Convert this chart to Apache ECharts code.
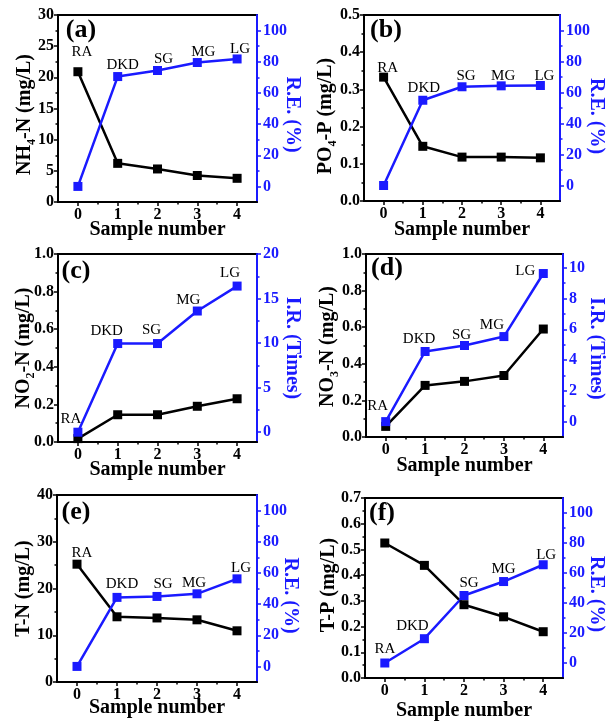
<!DOCTYPE html>
<html>
<head>
<meta charset="utf-8">
<script src="https://cdn.jsdelivr.net/npm/echarts@6.0.0/dist/echarts.min.js"></script>
<style>
html, body { margin: 0; padding: 0; background: #fff; }
#chart { width: 608px; height: 723px; }
</style>
</head>
<body>
<div id="chart"></div>
<script>
// sample positions and names
const samples = [0, 1, 2, 3, 4]
const sampleNames = ['RA', 'DKD', 'SG', 'MG', 'LG']
const halfTicks = [0.5, 1.5, 2.5, 3.5]

// (a) NH4-N and removal efficiency
const nh4N = [20.9, 6.2, 5.3, 4.25, 3.8]
const nh4RE = [0, 70.5, 74.4, 79.5, 81.8]
// (b) PO4-P
const po4P = [0.333, 0.147, 0.118, 0.118, 0.116]
const po4RE = [0, 55, 63.7, 64.3, 64.5]
// (c) NO2-N and increase rate
const no2N = [0.018, 0.145, 0.145, 0.19, 0.23]
const no2IR = [0, 9.95, 9.95, 13.6, 16.4]
// (d) NO3-N
const no3N = [0.058, 0.282, 0.304, 0.336, 0.59]
const no3IR = [0, 4.56, 4.95, 5.53, 9.63]
// (e) T-N
const tN = [25.2, 13.95, 13.7, 13.3, 10.95]
const tNRE = [0, 44.3, 44.9, 46.6, 56.2]
// (f) T-P
const tP = [0.525, 0.438, 0.285, 0.238, 0.18]
const tPRE = [0, 16.2, 45, 54.3, 65.5]

// right axis tick labels
const reTicks = [0, 20, 40, 60, 80, 100]
const reMinor = [10, 30, 50, 70, 90]
const irTicksC = [0, 5, 10, 15, 20]
const irMinorC = [2.5, 7.5, 12.5, 17.5]
const irTicksD = [0, 2, 4, 6, 8, 10]
const irMinorD = [1, 3, 5, 7, 9]

const font = '"Liberation Serif", "Times New Roman", serif'
const blue = '#1a1aff'

// layout of each panel
const panels = [
  { tag: '(a)', tagPos: [81, 30], box: [58, 15, 199, 187],
    leftName: 'NH{s|4}-N (mg/L)', left: [0, 30, 5], digits: 0, leftGap: 20, leftShift: 6,
    rightName: 'R.E. (%)', right: [-10, 110], rTicks: reTicks, rMinor: reMinor, rightGap: 24, rightShift: 6,
    xGap: 17, black: nh4N, blue: nh4RE, host: 'kbbbb',
    offs: [[4, -20], [5, -11], [6, -11], [6, -10], [3, -10]] },
  { tag: '(b)', tagPos: [386, 30], box: [364, 15, 201, 186],
    leftName: 'PO{s|4}-P (mg/L)', left: [0, 0.5, 0.1], digits: 1, leftGap: 25, leftShift: 8,
    rightName: 'R.E. (%)', right: [-10, 110], rTicks: reTicks, rMinor: reMinor, rightGap: 25, rightShift: 8,
    xGap: 18, black: po4P, blue: po4RE, host: 'kbbbb',
    offs: [[4, -9], [1, -12], [4, -11], [2, -10], [4, -9]] },
  { tag: '(c)', tagPos: [76, 271], box: [58, 254, 199, 188],
    leftName: 'NO{s|2}-N (mg/L)', left: [0, 1, 0.2], digits: 1, leftGap: 21, leftShift: 0,
    rightName: 'I.R. (Times)', right: [-1.1, 20], rTicks: irTicksC, rMinor: irMinorC, rightGap: 24, rightShift: 0,
    xGap: 17, black: no2N, blue: no2IR, host: 'bbbbb',
    offs: [[-7, -13], [-11, -12], [-6, -13], [-9, -11], [-7, -13]] },
  { tag: '(d)', tagPos: [387, 268], box: [366, 254, 198, 183],
    leftName: 'NO{s|3}-N (mg/L)', left: [0, 1, 0.2], digits: 1, leftGap: 25, leftShift: 1,
    rightName: 'I.R. (Times)', right: [-1, 10.9], rTicks: irTicksD, rMinor: irMinorD, rightGap: 22, rightShift: 3,
    xGap: 18, black: no3N, blue: no3IR, host: 'bbbbb',
    offs: [[-8, -16], [-6, -12], [-3, -10], [-12, -12], [-18, -2]] },
  { tag: '(e)', tagPos: [76, 512], box: [57, 495, 200, 187],
    leftName: 'T-N (mg/L)', left: [0, 40, 10], digits: 0, leftGap: 20, leftShift: 0,
    rightName: 'R.E. (%)', right: [-10, 110], rTicks: reTicks, rMinor: reMinor, rightGap: 22, rightShift: 7,
    xGap: 15, black: tN, blue: tNRE, host: 'kbbbb',
    offs: [[5, -11], [5, -13], [6, -12], [-3, -11], [4, -11]] },
  { tag: '(f)', tagPos: [382, 513], box: [365, 498, 199, 185],
    leftName: 'T-P (mg/L)', left: [0, 0.7, 0.1], digits: 1, leftGap: 23, leftShift: -3,
    rightName: 'R.E. (%)', right: [-10, 110], rTicks: reTicks, rMinor: reMinor, rightGap: 22, rightShift: 6,
    xGap: 22, black: tP, blue: tPRE, host: 'bbbbb',
    offs: [[0, -14], [-12, -13], [5, -12], [0, -12], [3, -10]] }
]

function tickLabel(color) {
  return { color: color, fontFamily: font, fontWeight: 'bold', fontSize: 16 }
}

function nameStyle(color, lineHeight, padding) {
  return {
    color: color, fontFamily: font, fontWeight: 'bold', fontSize: 20,
    lineHeight: lineHeight, padding: padding,
    rich: { s: { color: color, fontFamily: font, fontWeight: 'bold', fontSize: 12, lineHeight: 12, verticalAlign: 'bottom' } }
  }
}

function pointData(p, values, who) {
  return samples.map((x, j) => {
    const item = { value: [x, values[j]] }
    if (p.host[j] === who) {
      item.label = {
        show: true, position: 'inside', formatter: sampleNames[j], offset: p.offs[j],
        color: '#000', fontFamily: font, fontSize: 15
      }
    }
    return item
  })
}

const option = { animation: false, grid: [], xAxis: [], yAxis: [], series: [], graphic: [] }

panels.forEach((p, i) => {
  option.grid.push({
    left: p.box[0], top: p.box[1], width: p.box[2], height: p.box[3],
    show: true, borderColor: '#000', borderWidth: 2
  })
  // bottom axis
  option.xAxis.push({
    gridIndex: i, type: 'value', min: -0.5, max: 4.5, position: 'bottom',
    name: 'Sample number', nameLocation: 'middle', nameGap: p.xGap, nameMoveOverlap: false,
    nameTextStyle: nameStyle('#000', 22, 0),
    axisLine: { onZero: false, lineStyle: { color: '#000', width: 2 } },
    axisTick: { customValues: samples, length: 4, lineStyle: { color: '#000', width: 1.5 } },
    axisLabel: Object.assign({ customValues: samples, margin: 5 }, tickLabel('#000')),
    splitLine: { show: false }
  })
  option.xAxis.push({
    gridIndex: i, type: 'value', min: -0.5, max: 4.5, position: 'bottom',
    axisLine: { show: false, onZero: false }, axisLabel: { show: false },
    axisTick: { customValues: halfTicks, length: 2.5, lineStyle: { color: '#000', width: 1.5 } },
    splitLine: { show: false }
  })
  // left axis
  option.yAxis.push({
    gridIndex: i, type: 'value', position: 'left',
    min: p.left[0], max: p.left[1], interval: p.left[2],
    name: p.leftName, nameLocation: 'middle', nameRotate: 90, nameGap: p.leftGap, nameMoveOverlap: false,
    nameTextStyle: nameStyle('#000', 26, [0, Math.max(0, 2 * p.leftShift), 0, Math.max(0, -2 * p.leftShift)]),
    axisLine: { show: true, onZero: false, lineStyle: { color: '#000', width: 2 } },
    axisTick: { show: true, length: 4, lineStyle: { color: '#000', width: 1.5 } },
    minorTick: { show: true, splitNumber: 2, length: 2.5, lineStyle: { color: '#000', width: 1.5 } },
    axisLabel: Object.assign({ margin: 4, formatter: v => v.toFixed(p.digits) }, tickLabel('#000')),
    splitLine: { show: false }
  })
  // right axis
  option.yAxis.push({
    gridIndex: i, type: 'value', position: 'right',
    min: p.right[0], max: p.right[1],
    name: p.rightName, nameLocation: 'middle', nameRotate: -90, nameGap: p.rightGap, nameMoveOverlap: false,
    nameTextStyle: nameStyle(blue, 22, [0, 0, 0, 2 * p.rightShift]),
    axisLine: { show: true, onZero: false, lineStyle: { color: blue, width: 2 } },
    axisTick: { show: true, customValues: p.rTicks, length: 4, lineStyle: { color: blue, width: 1.5 } },
    axisLabel: Object.assign({ customValues: p.rTicks, margin: 6 }, tickLabel(blue)),
    splitLine: { show: false }
  })
  option.yAxis.push({
    gridIndex: i, type: 'value', position: 'right',
    min: p.right[0], max: p.right[1],
    axisLine: { show: false, onZero: false }, axisLabel: { show: false },
    axisTick: { show: true, customValues: p.rMinor, length: 2.5, lineStyle: { color: blue, width: 1.5 } },
    splitLine: { show: false }
  })

  option.series.push({
    type: 'line', xAxisIndex: 2 * i, yAxisIndex: 3 * i,
    data: pointData(p, p.black, 'k'),
    symbol: 'rect', symbolSize: 9,
    lineStyle: { color: '#000', width: 2.5 }, itemStyle: { color: '#000' }
  })
  option.series.push({
    type: 'line', xAxisIndex: 2 * i, yAxisIndex: 3 * i + 1,
    data: pointData(p, p.blue, 'b'),
    symbol: 'rect', symbolSize: 9,
    lineStyle: { color: blue, width: 2.5 }, itemStyle: { color: blue }
  })

  option.graphic.push({
    type: 'text', x: p.tagPos[0], y: p.tagPos[1], z: 100,
    style: {
      text: p.tag, fill: '#000', font: 'bold 26px ' + font,
      textAlign: 'center', textVerticalAlign: 'middle', align: 'center', verticalAlign: 'middle'
    }
  })
})

const chart = echarts.init(document.getElementById('chart'))
chart.setOption(option)
</script>
</body>
</html>
